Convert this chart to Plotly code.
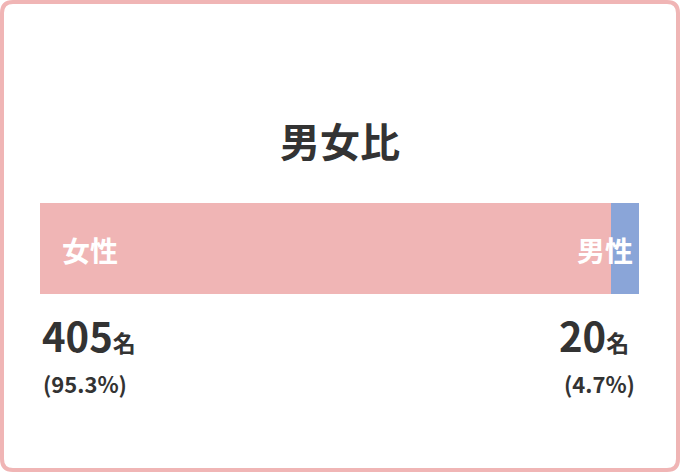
import plotly.graph_objects as go

# data
categories = ["女性", "男性"]
counts = [405, 20]
percents = ["95.3%", "4.7%"]
colors = ["#F0B5B5", "#8AA5D8"]
title = "男女比"

W, H = 680, 472
FONT = "Noto Sans CJK JP"
TXT = "#333333"


def px(x):
    return x / W


def py(y):
    return 1 - y / H


fig = go.Figure()
for cat, n, c in zip(categories, counts, colors):
    fig.add_trace(go.Bar(
        x=[n], y=[0], orientation="h", name=cat,
        marker=dict(color=c, line=dict(width=0)),
        width=1, hoverinfo="skip",
    ))

total = sum(counts)

fig.update_layout(
    width=W, height=H,
    margin=dict(l=0, r=0, t=0, b=0),
    paper_bgcolor="white", plot_bgcolor="white",
    barmode="stack", showlegend=False,
    font=dict(family=FONT, color=TXT),
    xaxis=dict(domain=[px(40), px(639)], range=[0, total], visible=False, fixedrange=True),
    yaxis=dict(domain=[py(294), py(203)], range=[-0.5, 0.5], visible=False, fixedrange=True),
)

# rounded pink frame
r = 11
x0, y0, x1, y1 = 2, 2, W - 2, H - 2
fig.add_shape(
    type="path", xref="paper", yref="paper",
    path=(f"M {px(x0+r)},{py(y0)} L {px(x1-r)},{py(y0)} Q {px(x1)},{py(y0)} {px(x1)},{py(y0+r)} "
          f"L {px(x1)},{py(y1-r)} Q {px(x1)},{py(y1)} {px(x1-r)},{py(y1)} L {px(x0+r)},{py(y1)} "
          f"Q {px(x0)},{py(y1)} {px(x0)},{py(y1-r)} L {px(x0)},{py(y0+r)} Q {px(x0)},{py(y0)} {px(x0+r)},{py(y0)} Z"),
    line=dict(color="#F0B5B5", width=4), layer="below")


def note(text, x, y, anchor, size, color=TXT):
    return dict(text=text, x=px(x), y=py(y), xref="paper", yref="paper",
                showarrow=False, xanchor=anchor, yanchor="middle",
                font=dict(size=size, color=color))


ann = [
    note(f"<b>{title}</b>", 340, 140, "center", 40),
    note(f"<b>{categories[0]}</b>", 60, 250, "left", 28, "white"),
    note(f"<b>{categories[1]}</b>", 635, 250, "right", 28, "white"),
    note(f"<b>{counts[0]}<span style='font-size:23px'>名</span></b>", 40, 335, "left", 40),
    note(f"<b>{counts[1]}<span style='font-size:23px'>名</span></b>", 631, 335, "right", 40),
    note(f"<b>({percents[0]})</b>", 41, 383, "left", 22),
    note(f"<b>({percents[1]})</b>", 637, 383, "right", 22),
]
fig.update_layout(annotations=ann)

fig.write_html("out.html", config={"displayModeBar": False},
               post_script="document.body.style.margin='0';")
